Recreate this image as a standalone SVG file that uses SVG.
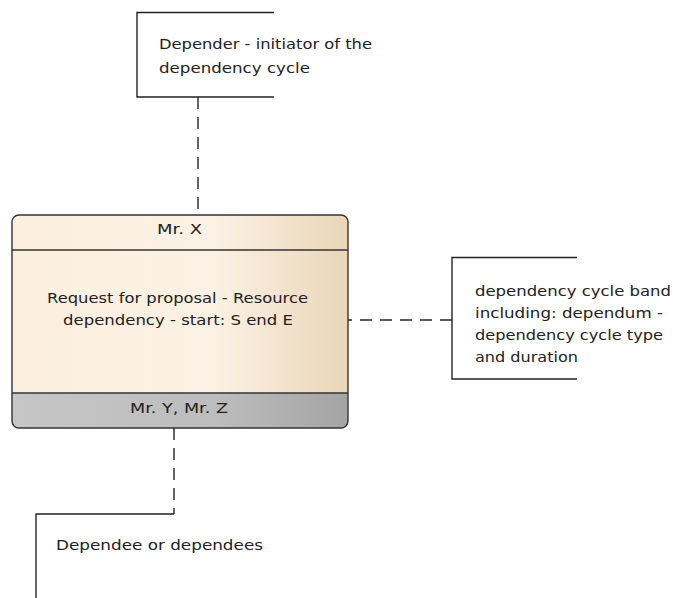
<svg xmlns="http://www.w3.org/2000/svg" width="674" height="598" viewBox="0 0 674 598">
<defs>
<linearGradient id="cream" x1="0" y1="0" x2="1" y2="0">
<stop offset="0" stop-color="#fcefdf"/>
<stop offset="0.6" stop-color="#fbf1e4"/>
<stop offset="1" stop-color="#ead6b8"/>
</linearGradient>
<linearGradient id="grey" x1="0" y1="0" x2="1" y2="0">
<stop offset="0" stop-color="#c6c6c6"/>
<stop offset="0.6" stop-color="#bdbdbd"/>
<stop offset="1" stop-color="#a4a4a4"/>
</linearGradient>
<clipPath id="boxclip"><rect x="12" y="215" width="336" height="213" rx="7"/></clipPath>
</defs>
<style>
text{font-family:"DejaVu Sans","Liberation Sans",sans-serif;font-size:13.5px;fill:#222}
.note{fill:none;stroke:#222;stroke-width:1.4}
.conn{fill:none;stroke:#222;stroke-width:1.4;stroke-dasharray:12,8}
</style>
<g id="connectors">
<line class="conn" x1="198" y1="97" x2="198" y2="215"/>
<line class="conn" x1="452" y1="320" x2="348" y2="320"/>
<line class="conn" x1="174" y1="428" x2="174" y2="514"/>
</g>
<g id="depender-note">
<polyline class="note" points="274,12.5 137,12.5 137,97 274,97"/>
<text x="159" y="49" textLength="213" lengthAdjust="spacingAndGlyphs">Depender - initiator of the</text>
<text x="159" y="73" textLength="151" lengthAdjust="spacingAndGlyphs">dependency cycle</text>
</g>
<g id="band-note">
<polyline class="note" points="577,257.5 452,257.5 452,379 577,379"/>
<text x="475" y="296" textLength="196" lengthAdjust="spacingAndGlyphs">dependency cycle band</text>
<text x="475" y="318" textLength="188" lengthAdjust="spacingAndGlyphs">including: dependum -</text>
<text x="475" y="340" textLength="188" lengthAdjust="spacingAndGlyphs">dependency cycle type</text>
<text x="475" y="362" textLength="103" lengthAdjust="spacingAndGlyphs">and duration</text>
</g>
<g id="dependee-note">
<polyline class="note" points="174,514 36,514 36,598"/>
<text x="56" y="550" textLength="207" lengthAdjust="spacingAndGlyphs">Dependee or dependees</text>
</g>
<g id="dependency-cycle">
<g clip-path="url(#boxclip)">
<rect x="12" y="215" width="336" height="178" fill="url(#cream)"/>
<rect x="12" y="393" width="336" height="35" fill="url(#grey)"/>
</g>
<line x1="12" y1="250" x2="348" y2="250" stroke="#333" stroke-width="1.3"/>
<line x1="12" y1="393" x2="348" y2="393" stroke="#333" stroke-width="1.3"/>
<rect x="12" y="215" width="336" height="213" rx="7" fill="none" stroke="#333" stroke-width="1.4"/>
<text x="157" y="234" textLength="45" lengthAdjust="spacingAndGlyphs">Mr. X</text>
<text x="47" y="303" textLength="261" lengthAdjust="spacingAndGlyphs">Request for proposal - Resource</text>
<text x="63" y="325" textLength="230" lengthAdjust="spacingAndGlyphs">dependency - start: S end E</text>
<text x="130" y="413" textLength="98" lengthAdjust="spacingAndGlyphs">Mr. Y, Mr. Z</text>
</g>
</svg>
